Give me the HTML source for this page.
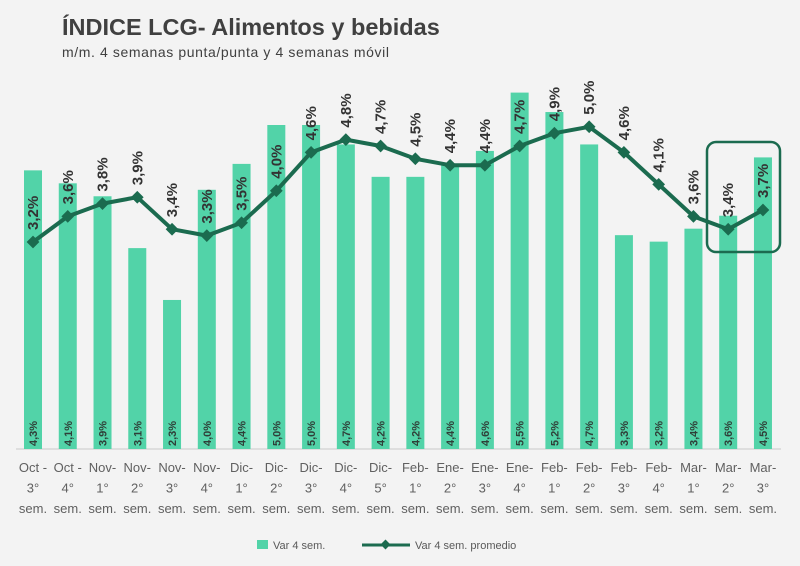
<!DOCTYPE html>
<html><head><meta charset="utf-8">
<style>
html,body{margin:0;padding:0;background:#f3f3f3;}
svg{display:block;font-family:"Liberation Sans",sans-serif;}
</style></head>
<body>
<svg id="chart" width="800" height="566" viewBox="0 0 800 566">
<rect width="800" height="566" fill="#f3f3f3"/>
<text x="62" y="35" font-size="23.5" font-weight="bold" fill="#404040">ÍNDICE LCG- Alimentos y bebidas</text>
<text x="62" y="57" font-size="14" letter-spacing="0.6" fill="#404040">m/m. 4 semanas punta/punta y 4 semanas móvil</text>
<line x1="16" y1="449" x2="781" y2="449" stroke="#c8c8c8" stroke-width="1"/>
<g id="bars"></g><g id="line"></g><g id="labels"></g><g id="xlabels"></g>
<rect x="707" y="142" width="73" height="110" rx="9" fill="none" stroke="#1b6b4f" stroke-width="2.5"/>
<g>
<rect x="257" y="540" width="11" height="9" fill="#52d3a8"/>
<text x="273" y="549" font-size="11" fill="#595959">Var 4 sem.</text>
<line x1="362" y1="545" x2="410" y2="545" stroke="#1b6b4f" stroke-width="3"/>
<rect x="382" y="541" width="7" height="7" fill="#1b6b4f" transform="rotate(45 385.5 544.5)"/>
<text x="415" y="549" font-size="11" fill="#595959">Var 4 sem. promedio</text>
</g>
</svg>
<script>
const categoriesTop = ["Oct -","Oct -","Nov-","Nov-","Nov-","Nov-","Dic-","Dic-","Dic-","Dic-","Dic-","Feb-","Ene-","Ene-","Ene-","Feb-","Feb-","Feb-","Feb-","Mar-","Mar-","Mar-"];
const categoriesMid = ["3°","4°","1°","2°","3°","4°","1°","2°","3°","4°","5°","1°","2°","3°","4°","1°","2°","3°","4°","1°","2°","3°"];
const barValues = [4.3,4.1,3.9,3.1,2.3,4.0,4.4,5.0,5.0,4.7,4.2,4.2,4.4,4.6,5.5,5.2,4.7,3.3,3.2,3.4,3.6,4.5];
const lineValues = [3.2,3.6,3.8,3.9,3.4,3.3,3.5,4.0,4.6,4.8,4.7,4.5,4.4,4.4,4.7,4.9,5.0,4.6,4.1,3.6,3.4,3.7];
const NS="http://www.w3.org/2000/svg";
function xPos(i){return 33+i*34.76;}
function yBar(v){return 449-v*64.8;}
function yLine(v){return 242-(v-3.2)*64;}
function fmt(v){return v.toFixed(1).replace('.',',')+'%';}
function mk(tag,attrs,parent){const e=document.createElementNS(NS,tag);for(const k in attrs)e.setAttribute(k,attrs[k]);parent.appendChild(e);return e;}
const gB=document.getElementById('bars'),gL=document.getElementById('line'),gT=document.getElementById('labels'),gX=document.getElementById('xlabels');
barValues.forEach((v,i)=>{
  const r=mk('rect',{x:xPos(i)-9,y:yBar(v),width:18,height:449-yBar(v),fill:'#52d3a8'},gB);
  
  
  const t=mk('text',{x:0,y:0,'font-size':11,'font-weight':'bold',fill:'#2f3f38',transform:`translate(${xPos(i)+4},446) rotate(-90)`},gT);
  t.textContent=fmt(v);
  
  
});
const pts=lineValues.map((v,i)=>xPos(i)+','+yLine(v)).join(' ');
const pl=mk('polyline',{points:pts,fill:'none',stroke:'#1b6b4f','stroke-width':4,'stroke-linejoin':'round'},gL);


lineValues.forEach((v,i)=>{
  const x=xPos(i),y=yLine(v);
  const m=mk('rect',{x:x-4.5,y:y-4.5,width:9,height:9,fill:'#1b6b4f',transform:`rotate(45 ${x} ${y})`},gL);
  
  
  const t=mk('text',{x:0,y:0,'font-size':15,'font-weight':'bold',fill:'#333',transform:`translate(${x+5},${y-12}) rotate(-90)`},gT);
  t.textContent=fmt(v);
  
  
});
categoriesTop.forEach((c,i)=>{
  const x=xPos(i);
  [c,categoriesMid[i],'sem.'].forEach((s,j)=>{
    const t=mk('text',{x:x,y:472+j*20.5,'font-size':13,fill:'#606060','text-anchor':'middle'},gX);
    t.textContent=s;
    
    
  });
});
</script>
</body></html>
